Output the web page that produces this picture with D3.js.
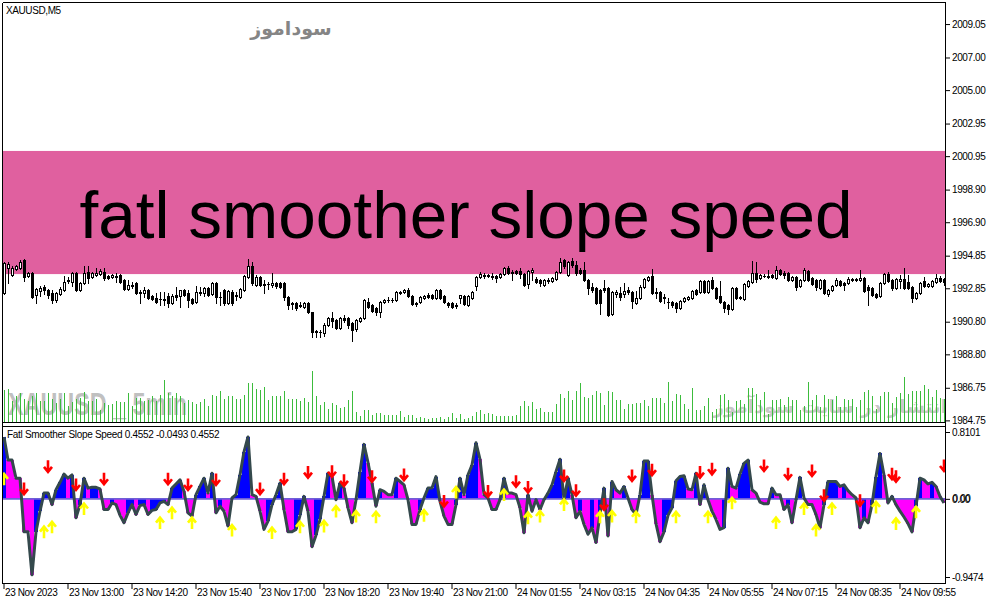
<!DOCTYPE html>
<html><head><meta charset="utf-8">
<script src="https://cdn.jsdelivr.net/npm/d3@7"></script>
<style>
html,body{margin:0;padding:0;background:#fff;}
svg{display:block;font-family:"Liberation Sans",Arial,sans-serif;}
</style></head><body>
<svg id="c" width="991" height="605"></svg>
<script>
// ---------------- data ----------------
const symbolLabel = "XAUUSD,M5";
const indicatorName = "Fatl Smoother Slope Speed";
const indicatorReadout = ["0.4552", "-0.0493", "0.4552"];
const bannerText = "fatl smoother slope speed";
const brandText = "سوداموز";
const footerBrand = "انتشار در سایت سودآموز";
const volWatermark = "XAUUSD _ 5min";
const timeLabels = ["23 Nov 2023","23 Nov 13:00","23 Nov 14:20","23 Nov 15:40","23 Nov 17:00","23 Nov 18:20","23 Nov 19:40","23 Nov 21:00","24 Nov 01:55","24 Nov 03:15","24 Nov 04:35","24 Nov 05:55","24 Nov 07:15","24 Nov 08:35","24 Nov 09:55"];
const priceTicks = [2009.05,2007.00,2005.00,2002.95,2000.95,1998.90,1996.90,1994.85,1992.85,1990.80,1988.80,1986.75,1984.75];
const indicatorTicks = [0.8101, 0.00, -0.9474];
const bannerTop = 2001.27, bannerBottom = 1993.72; // price band covered by the banner

const opens = [1992.55,1994.09,1993.66,1994.02,1994.09,1994.58,1993.60,1993.78,1992.43,1992.68,
1992.92,1992.74,1992.55,1992.12,1992.49,1992.74,1993.29,1993.23,1993.78,1992.74,
1993.17,1993.84,1993.53,1993.66,1993.72,1993.84,1993.60,1993.53,1993.60,1993.66,
1993.35,1992.80,1993.04,1993.17,1992.55,1992.55,1992.74,1992.37,1992.25,1992.19,
1992.19,1992.37,1991.94,1992.43,1992.37,1992.74,1992.55,1992.19,1992.00,1992.61,
1992.55,1992.86,1992.49,1993.17,1992.31,1992.74,1991.94,1992.61,1992.43,1992.31,
1992.74,1993.53,1994.21,1993.04,1993.53,1993.11,1993.11,1993.04,1993.17,1993.17,
1993.17,1992.31,1991.88,1991.94,1991.82,1991.70,1991.94,1991.39,1990.16,1990.16,
1990.10,1990.59,1991.02,1990.90,1990.41,1991.02,1991.02,1990.72,1990.35,1990.84,
1991.02,1992.00,1991.82,1991.63,1991.39,1992.00,1992.12,1992.12,1992.12,1992.61,
1992.61,1992.74,1992.37,1991.94,1992.00,1992.25,1992.43,1992.43,1992.25,1992.74,
1992.37,1991.94,1991.94,1991.82,1992.25,1992.37,1991.82,1992.25,1992.98,1993.53,
1993.66,1993.66,1993.60,1993.60,1993.53,1993.72,1994.09,1993.84,1993.90,1993.90,
1993.72,1993.11,1993.84,1993.41,1993.35,1993.04,1993.35,1993.29,1993.41,1993.84,
1994.58,1993.66,1994.52,1994.27,1993.96,1993.96,1993.35,1992.92,1992.86,1992.74,
1992.86,1992.86,1991.27,1992.49,1992.55,1992.49,1992.74,1992.61,1991.94,1992.25,
1992.92,1993.35,1993.60,1992.61,1992.61,1992.31,1992.00,1992.00,1991.94,1991.63,
1992.06,1992.19,1992.25,1992.74,1992.61,1993.29,1992.61,1993.35,1992.86,1992.37,
1992.00,1991.82,1991.57,1992.86,1992.31,1992.19,1992.98,1993.23,1993.78,1993.47,
1993.60,1993.60,1993.66,1993.47,1993.96,1993.78,1993.78,1993.35,1993.53,1992.98,
1993.35,1993.90,1993.47,1993.35,1992.86,1993.35,1992.49,1992.74,1993.04,1993.29,
1993.17,1993.17,1993.41,1993.41,1993.35,1993.47,1992.92,1992.86,1992.49,1992.37,
1993.17,1993.72,1993.35,1992.86,1993.29,1993.41,1993.23,1992.92,1992.25,1992.55,
1993.29,1992.98,1992.98,1993.23,1993.47,1993.41];

const highs = [1994.45,1994.45,1994.21,1994.27,1994.58,1994.64,1993.84,1993.84,1992.86,1992.98,
1993.04,1992.80,1992.74,1992.61,1992.92,1993.60,1993.53,1993.84,1993.84,1993.23,
1994.21,1994.21,1993.84,1994.09,1994.02,1994.09,1993.66,1993.72,1993.78,1993.72,
1993.41,1993.35,1993.23,1993.23,1992.74,1992.92,1992.80,1992.43,1992.55,1992.61,
1992.61,1992.55,1992.49,1992.92,1992.74,1992.80,1992.74,1992.25,1992.98,1992.92,
1992.92,1992.92,1993.23,1993.23,1992.61,1992.80,1992.74,1992.74,1992.61,1992.86,
1993.66,1994.64,1994.45,1993.66,1993.60,1993.35,1993.23,1993.78,1993.23,1993.23,
1993.23,1992.37,1992.00,1992.00,1992.00,1992.00,1992.00,1991.39,1990.29,1990.29,
1990.72,1991.08,1991.39,1990.96,1991.08,1991.21,1991.08,1990.78,1990.96,1991.08,
1992.19,1992.25,1991.88,1991.70,1992.06,1992.19,1992.31,1992.25,1992.68,1992.68,
1992.80,1992.86,1992.43,1992.00,1992.37,1992.43,1992.55,1992.49,1992.80,1992.80,
1992.43,1992.00,1992.00,1991.94,1992.43,1992.43,1992.43,1992.68,1993.60,1993.84,
1993.78,1993.72,1993.78,1993.66,1993.78,1994.15,1994.21,1993.96,1993.96,1994.09,
1993.78,1993.96,1994.09,1993.53,1993.41,1993.41,1993.47,1993.53,1993.90,1994.70,
1994.64,1994.52,1994.70,1994.52,1994.09,1994.45,1993.41,1993.17,1992.92,1992.80,
1993.35,1992.92,1992.68,1992.74,1992.92,1993.17,1992.92,1992.68,1992.68,1993.04,
1993.47,1993.60,1994.02,1992.86,1992.68,1992.49,1992.25,1992.06,1992.00,1992.12,
1992.31,1992.37,1992.74,1992.80,1993.35,1993.35,1993.35,1993.53,1992.92,1993.29,
1992.06,1991.88,1992.92,1992.92,1992.37,1993.17,1993.35,1994.52,1994.45,1993.72,
1993.72,1993.96,1993.72,1994.21,1994.02,1993.90,1993.84,1993.60,1993.60,1993.41,
1994.09,1993.96,1993.53,1993.41,1993.41,1993.41,1992.80,1993.04,1993.47,1993.35,
1993.23,1993.53,1993.47,1993.47,1993.96,1993.53,1993.04,1992.92,1992.55,1993.23,
1993.78,1993.84,1993.41,1993.47,1993.66,1994.09,1993.66,1992.98,1992.61,1993.23,
1993.53,1993.17,1993.35,1993.72,1993.60,1993.47];

const lows = [1992.49,1993.17,1993.60,1993.96,1994.02,1993.29,1993.53,1992.25,1991.94,1992.37,
1992.49,1992.25,1991.94,1992.00,1992.43,1992.68,1993.17,1992.98,1992.68,1992.68,
1993.11,1993.17,1993.47,1993.60,1993.66,1993.35,1993.41,1993.47,1993.23,1993.17,
1992.74,1992.74,1992.86,1992.49,1991.94,1992.31,1992.19,1992.12,1991.94,1991.82,
1991.82,1991.70,1991.88,1992.12,1991.70,1992.37,1991.70,1991.88,1991.94,1992.43,
1992.37,1992.37,1992.43,1991.94,1991.82,1991.82,1991.88,1991.82,1992.12,1992.25,
1992.68,1993.47,1993.04,1992.98,1992.98,1992.55,1992.80,1992.92,1992.86,1992.86,
1992.12,1991.57,1991.57,1991.51,1991.70,1991.63,1991.33,1989.86,1989.86,1989.86,
1989.92,1990.53,1990.47,1990.35,1990.35,1990.78,1990.41,1989.61,1990.22,1990.78,
1990.96,1991.63,1991.39,1991.21,1991.08,1991.94,1992.00,1992.00,1992.06,1992.49,
1992.55,1992.31,1991.82,1991.76,1991.94,1992.19,1992.25,1992.19,1992.19,1992.19,
1991.94,1991.70,1991.63,1991.63,1991.94,1991.82,1991.76,1992.19,1992.74,1993.47,
1993.47,1993.53,1993.41,1993.23,1993.47,1993.66,1993.72,1993.35,1993.72,1993.47,
1992.98,1992.86,1993.35,1993.17,1992.98,1992.98,1993.17,1993.23,1993.35,1993.78,
1994.09,1993.60,1994.15,1993.66,1993.72,1993.29,1992.49,1992.61,1991.88,1991.27,
1992.61,1991.14,1991.21,1992.31,1992.12,1992.31,1992.49,1991.63,1991.88,1992.19,
1992.86,1993.29,1992.49,1992.25,1992.00,1991.94,1991.63,1991.70,1991.39,1991.57,
1992.00,1992.12,1992.19,1992.43,1992.55,1992.55,1992.55,1992.80,1992.19,1991.94,
1991.39,1991.27,1991.51,1992.19,1992.19,1992.12,1992.92,1993.17,1993.23,1993.41,
1993.53,1993.47,1993.47,1993.41,1993.66,1993.47,1993.29,1993.29,1992.74,1992.92,
1993.29,1993.29,1993.04,1992.74,1992.80,1992.49,1992.37,1992.68,1992.98,1992.98,
1992.74,1993.11,1993.29,1993.29,1993.29,1992.61,1991.82,1992.37,1992.25,1992.31,
1993.11,1993.23,1992.74,1992.80,1992.86,1992.80,1992.80,1992.00,1992.19,1992.49,
1992.92,1992.92,1992.92,1993.17,1993.23,1993.04];

const closes = [1994.39,1994.33,1994.09,1994.21,1994.45,1993.53,1993.78,1992.31,1992.80,1992.86,
1992.74,1992.43,1992.12,1992.55,1992.80,1993.23,1993.35,1993.78,1992.74,1993.17,
1993.78,1993.47,1993.78,1993.78,1993.90,1993.47,1993.47,1993.66,1993.53,1993.23,
1992.80,1993.04,1992.98,1992.55,1992.61,1992.74,1992.25,1992.19,1992.00,1992.16,
1992.12,1991.94,1992.37,1992.31,1992.74,1992.43,1992.12,1991.94,1992.61,1992.55,
1992.86,1992.43,1993.17,1992.31,1992.28,1991.94,1992.68,1991.94,1992.37,1992.80,
1993.60,1994.21,1993.17,1993.53,1993.04,1993.04,1993.08,1993.17,1992.98,1992.92,
1992.31,1991.82,1991.94,1991.63,1991.76,1991.94,1991.39,1990.16,1990.22,1990.19,
1990.59,1991.02,1990.84,1990.41,1991.02,1990.90,1990.59,1990.29,1990.90,1991.02,
1992.12,1991.70,1991.45,1991.39,1992.00,1992.12,1992.15,1992.10,1992.61,1992.55,
1992.74,1992.37,1991.88,1991.88,1992.31,1992.37,1992.31,1992.25,1992.74,1992.25,
1992.00,1991.82,1991.70,1991.76,1992.43,1991.88,1992.37,1992.61,1993.53,1993.72,
1993.60,1993.60,1993.53,1993.47,1993.72,1994.09,1993.78,1993.78,1993.78,1993.72,
1993.04,1993.90,1993.96,1993.23,1993.17,1993.35,1993.29,1993.47,1993.84,1994.45,
1994.21,1994.45,1994.27,1993.78,1993.78,1993.35,1992.86,1992.74,1991.94,1991.94,
1992.74,1991.21,1992.61,1992.61,1992.31,1992.68,1992.61,1992.06,1992.25,1992.92,
1993.41,1993.53,1992.55,1992.55,1992.06,1992.25,1991.97,1991.82,1991.63,1992.06,
1992.25,1992.31,1992.68,1992.49,1993.29,1992.61,1993.29,1992.86,1992.25,1992.00,
1991.63,1991.57,1992.86,1992.25,1992.25,1993.11,1993.29,1993.78,1993.41,1993.66,
1993.57,1993.53,1993.53,1993.96,1993.72,1993.66,1993.35,1993.53,1992.92,1993.35,
1993.96,1993.35,1993.11,1992.92,1993.35,1992.55,1992.74,1992.98,1993.35,1993.04,
1993.04,1993.41,1993.35,1993.35,1993.47,1992.68,1992.74,1992.43,1992.31,1993.17,
1993.72,1993.29,1992.86,1993.41,1993.41,1992.86,1992.86,1992.25,1992.55,1993.17,
1992.98,1993.11,1993.29,1993.47,1993.29,1993.23];

const volumes = [660,680,440,540,600,480,440,540,600,440,
440,600,480,400,480,600,340,420,480,500,
620,440,440,480,260,400,360,380,440,420,
420,600,340,500,500,440,460,540,440,560,
860,600,540,600,540,400,460,420,380,420,
480,340,560,540,640,480,540,540,480,480,
560,800,800,680,660,720,460,540,540,540,
640,480,480,480,440,500,420,1040,540,360,
420,280,400,360,300,320,460,640,220,140,
260,260,160,200,200,160,160,160,160,240,
120,160,160,100,120,100,80,100,100,120,
80,120,200,100,180,80,100,140,220,260,
180,200,180,140,140,140,140,140,160,340,
440,340,420,280,300,220,220,220,380,580,
500,640,460,640,800,520,500,560,640,600,
360,640,620,460,460,280,380,380,400,400,
460,340,500,500,500,400,820,440,580,560,
380,280,700,260,260,340,500,220,280,560,
580,460,220,440,460,380,700,700,580,460,
620,180,460,460,480,360,520,460,460,260,
340,820,460,560,320,560,480,460,540,320,
480,460,480,320,460,620,660,540,280,540,
620,620,400,520,600,920,580,640,640,640,
760,680,520,660,500,480];

const slope = [0.75,0.47,0.47,0.25,0.25,-0.40,-0.40,-0.92,-0.40,-0.15,
0.07,0.07,-0.07,0.11,0.20,0.30,0.25,0.29,-0.23,-0.07,
0.25,0.13,0.14,0.14,0.12,-0.13,-0.13,-0.05,-0.07,-0.20,
-0.29,-0.17,-0.07,-0.19,-0.08,-0.07,-0.19,-0.14,-0.13,-0.05,
-0.03,-0.07,0.13,0.18,0.23,0.09,-0.17,-0.21,0.05,0.15,
0.25,0.07,0.31,-0.17,-0.09,-0.15,-0.33,0.01,0.05,0.29,
0.57,0.75,0.05,0.03,-0.15,-0.37,-0.27,-0.07,0.05,0.19,
-0.13,-0.40,-0.40,-0.37,-0.20,0.03,-0.15,-0.58,-0.44,-0.25,
0.03,0.31,0.27,-0.01,0.19,0.13,-0.11,-0.29,-0.01,0.33,
0.66,0.44,0.19,-0.09,0.11,0.09,0.05,0.05,0.25,0.21,
0.17,-0.01,-0.31,-0.31,-0.13,0.01,0.13,0.13,0.27,-0.03,
-0.21,-0.31,-0.31,-0.07,0.25,0.05,0.29,0.41,0.68,0.48,
0.05,0.01,-0.13,-0.13,-0.01,0.25,0.07,0.07,0.05,-0.11,
-0.41,0.05,-0.15,-0.01,-0.13,-0.01,0.07,0.17,0.33,0.48,
-0.01,0.25,0.05,-0.23,-0.15,-0.31,-0.43,-0.35,-0.53,-0.19,
0.13,-0.45,0.21,0.11,0.07,0.15,0.01,-0.13,-0.19,0.05,
0.46,0.46,0.05,-0.30,-0.52,-0.40,-0.20,-0.11,0.22,0.27,
0.28,0.12,0.11,0.31,-0.07,0.17,-0.01,-0.15,-0.25,-0.37,
-0.35,0.37,0.15,0.13,0.30,0.43,0.47,0.11,0.07,-0.04,
-0.06,-0.06,0.13,0.05,0.05,-0.13,-0.07,-0.29,-0.01,0.26,
0.01,-0.07,-0.07,-0.19,-0.35,-0.07,0.21,0.21,0.21,0.15,
0.17,0.10,0.05,0.01,-0.35,-0.23,-0.29,-0.07,0.27,0.55,
0.29,-0.05,0.03,-0.07,-0.15,-0.22,-0.30,-0.40,-0.09,0.25,
0.23,0.18,0.20,0.15,0.03,-0.05];

const sellArrows = [[5,0.13],[11,0.40],[18,0.18],[25,0.25],[41,0.25],[46,0.18],[53,0.24],[64,0.13],[70,0.25],[76,0.33],
[82,0.34],[85,0.23],[92,0.28],[100,0.30],[110,-0.02],[121,0.10],[128,0.22],[131,0.15],[140,0.29],[143,0.11],
[150,-0.06],[157,0.29],[162,0.36],[174,0.33],[177,0.37],[190,0.41],[196,0.31],[202,0.35],[205,0.05],[214,-0.01],
[222,0.31],[223,0.28],[235,0.41]];
const buyArrows = [[0,0.23],[10,-0.41],[12,-0.35],[20,-0.13],[39,-0.30],[42,-0.18],[47,-0.30],[57,-0.39],[67,-0.42],[74,-0.35],
[80,-0.34],[83,-0.16],[88,-0.22],[93,-0.23],[105,-0.21],[113,0.07],[125,0.04],[131,-0.24],[134,-0.22],[140,-0.08],
[149,-0.23],[152,-0.22],[158,-0.23],[168,-0.23],[176,-0.23],[182,-0.06],[193,-0.30],[200,-0.13],[203,-0.39],[207,-0.13],
[218,-0.11],[223,-0.31],[228,-0.17]];

// ---------------- layout ----------------
const svg = d3.select('#c');
const n = opens.length;
const L = 3, R = 945, mainTop = 3, mainBot = 423, indTop = 427, indBot = 583;

const x = d3.scaleBand().domain(d3.range(n)).range([2, 2 + 4 * n]).padding(0);
const y = d3.scaleLinear().domain([1984.59, 2010.28]).range([423, 4]);
const yv = d3.scaleLinear().domain([0, 1040]).range([423, 371]);
const yi = d3.scaleLinear().domain([-0.9474, 0.8101]).range([577, 432]);

const defs = svg.append('defs');
defs.append('clipPath').attr('id', 'cm').append('rect').attr('x', L).attr('y', mainTop).attr('width', R - L).attr('height', mainBot - mainTop);
defs.append('clipPath').attr('id', 'ci').append('rect').attr('x', L).attr('y', indTop).attr('width', R - L).attr('height', indBot - indTop);

const main = svg.append('g').attr('clip-path', 'url(#cm)');
const ind = svg.append('g').attr('clip-path', 'url(#ci)');

// banner
main.append('rect').attr('x', L).attr('width', R - L)
  .attr('y', y(bannerTop)).attr('height', y(bannerBottom) - y(bannerTop)).attr('fill', '#e0609f');
main.append('text').attr('x', 466).attr('y', 238).attr('text-anchor', 'middle')
  .attr('font-size', 67.5).attr('fill', '#000').text(bannerText);

// volume watermark
main.append('text').attr('x', 8).attr('y', 415).attr('font-size', 31).attr('font-weight', 'bold')
  .attr('fill', '#c0c0c0').attr('textLength', 179).attr('lengthAdjust', 'spacingAndGlyphs').text(volWatermark);
main.append('text').attr('x', 830).attr('y', 413).attr('text-anchor', 'middle').attr('direction', 'rtl')
  .attr('font-family', 'DejaVu Sans').attr('font-weight', 'bold').attr('font-size', 19)
  .attr('fill', '#c8c8c8').text(footerBrand);

// volumes
main.append('g').attr('stroke', '#3cbc3c').attr('stroke-width', 1).attr('shape-rendering', 'crispEdges')
  .selectAll('line').data(volumes).join('line')
  .attr('x1', (d, i) => x(i) + 2.5).attr('x2', (d, i) => x(i) + 2.5)
  .attr('y1', yv(0)).attr('y2', d => Math.round(yv(d)));

// candles
const cg = main.append('g').attr('shape-rendering', 'crispEdges');
cg.selectAll('line').data(d3.range(n)).join('line')
  .attr('x1', i => x(i) + 2.5).attr('x2', i => x(i) + 2.5)
  .attr('y1', i => Math.round(y(highs[i]))).attr('y2', i => Math.round(y(lows[i])) + 1)
  .attr('stroke', '#000');
cg.selectAll('rect').data(d3.range(n)).join('rect')
  .attr('x', i => x(i) + 1.5).attr('width', 2)
  .attr('y', i => Math.round(y(Math.max(opens[i], closes[i]))) + 0.5)
  .attr('height', i => Math.max(0.01, Math.round(Math.abs(y(opens[i]) - y(closes[i])))))
  .attr('fill', i => closes[i] >= opens[i] ? '#fff' : '#000')
  .attr('stroke', '#000').attr('stroke-width', 1);

// top brand
svg.append('text').attr('x', 291).attr('y', 35).attr('text-anchor', 'middle').attr('direction', 'rtl')
  .attr('font-family', 'DejaVu Sans').attr('font-weight', 'bold').attr('font-size', 19)
  .attr('fill', '#858585').text(brandText);
svg.append('text').attr('x', 6).attr('y', 14).attr('font-size', 10).attr('letter-spacing', -0.4).text(symbolLabel);

// indicator histogram
const colors = [];
slope.forEach((v, i) => {
  if (i === 0) colors.push('#0000ff');
  else if (v > slope[i - 1]) colors.push('#0000ff');
  else if (v < slope[i - 1]) colors.push('#ff00ff');
  else colors.push(colors[i - 1]);
});
ind.append('g').attr('shape-rendering', 'crispEdges').selectAll('rect').data(slope).join('rect')
  .attr('x', (d, i) => x(i)).attr('width', x.bandwidth())
  .attr('y', d => Math.min(yi(d), yi(0))).attr('height', d => Math.abs(yi(d) - yi(0)))
  .attr('fill', (d, i) => colors[i]);
ind.append('line').attr('x1', L).attr('x2', R).attr('y1', yi(0)).attr('y2', yi(0))
  .attr('stroke', '#6f5fd6').attr('stroke-width', 1.6);
ind.append('path').datum(slope)
  .attr('d', d3.line().x((d, i) => x(i) + 2).y(d => yi(d)))
  .attr('fill', 'none').attr('stroke', '#34494c').attr('stroke-width', 3).attr('stroke-linejoin', 'round');

// arrows
function arrowPath(cx, cy, dir) {
  const h = 5.5;
  return `M${cx},${cy - dir * h}L${cx},${cy + dir * h}M${cx - 4},${cy + dir * 1}L${cx},${cy + dir * (h + 0.5)}L${cx + 4},${cy + dir * 1}`;
}
ind.append('g').selectAll('path').data(sellArrows).join('path')
  .attr('d', d => arrowPath(x(d[0]) + 2, yi(d[1]), 1))
  .attr('fill', 'none').attr('stroke', '#ff0000').attr('stroke-width', 2.6);
ind.append('g').selectAll('path').data(buyArrows).join('path')
  .attr('d', d => arrowPath(x(d[0]) + 2, yi(d[1]), -1))
  .attr('fill', 'none').attr('stroke', '#ffff00').attr('stroke-width', 2.6);

svg.append('text').attr('x', 7).attr('y', 438).attr('font-size', 10).attr('letter-spacing', -0.3)
  .text(indicatorName + ' ' + indicatorReadout.join(' '));

// frames
const fr = svg.append('g').attr('stroke', '#000').attr('stroke-width', 1).attr('shape-rendering', 'crispEdges');
[[L - 0.5, mainTop - 0.5, R + 0.5, mainTop - 0.5], [L - 0.5, mainTop - 0.5, L - 0.5, indBot + 0.5],
 [R + 0.5, mainTop - 0.5, R + 0.5, indBot + 0.5], [L - 0.5, mainBot - 0.5, R + 0.5, mainBot - 0.5],
 [L - 0.5, indTop - 0.5, R + 0.5, indTop - 0.5], [L - 0.5, indBot + 0.5, R + 0.5, indBot + 0.5]]
  .forEach(s => fr.append('line').attr('x1', s[0]).attr('y1', s[1]).attr('x2', s[2]).attr('y2', s[3]));

// axes
function styleAxis(g) {
  g.select('.domain').remove();
  g.selectAll('text').attr('font-size', 10).attr('letter-spacing', -0.4).attr('fill', '#000')
    .attr('font-family', '"Liberation Sans",Arial,sans-serif');
  g.selectAll('line').attr('stroke', '#000');
}
svg.append('g').attr('transform', `translate(${R + 1},0)`)
  .call(d3.axisRight(y).tickValues(priceTicks).tickSize(4).tickPadding(2).tickFormat(d => d.toFixed(2)))
  .call(styleAxis);
svg.append('g').attr('transform', `translate(${R + 1},0)`)
  .call(d3.axisRight(yi).tickValues(indicatorTicks).tickSize(4).tickPadding(2)
    .tickFormat(d => d === 0 ? '0.00' : d.toFixed(4)))
  .call(styleAxis);
svg.append('text').attr('x', R + 7.6).attr('y', yi(0)).attr('dy', '0.32em').attr('font-size', 10)
  .attr('letter-spacing', -0.4).text('0.00');
const xa = svg.append('g').attr('transform', `translate(0,${indBot + 1})`)
  .call(d3.axisBottom(x).tickValues(d3.range(0, n, 16)).tickSize(5).tickFormat((d, k) => timeLabels[k]))
  .call(styleAxis);
xa.selectAll('text').attr('text-anchor', 'start').attr('x', 1).attr('y', 5).attr('dy', '0.71em');
</script>
</body></html>
